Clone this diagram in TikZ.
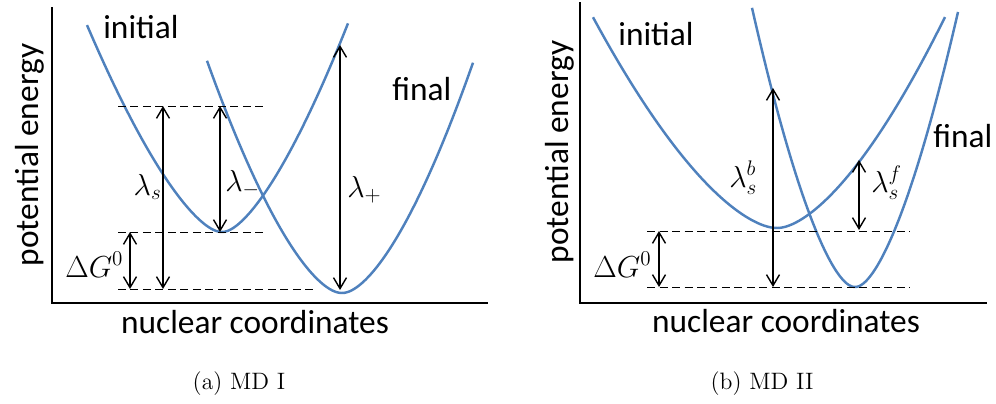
\documentclass[tikz,border=0pt]{standalone}
\usepackage{fontspec}
\setsansfont{Carlito}
\usepackage{tikz}
\usetikzlibrary{arrows.meta}
\definecolor{pesblue}{RGB}{79,129,189}

\tikzset{
  pes/.style={pesblue,line width=1.4pt,smooth},
  axisline/.style={line width=1.1pt},
  level/.style={dash pattern=on 1.6mm off 0.9mm,line width=0.5pt},
  gap/.style={{Straight Barb[length=2.2mm,width=2.6mm]}-{Straight Barb[length=2.2mm,width=2.6mm]},line width=0.8pt},
  lbl/.style={font=\sffamily\fontsize{19}{22}\selectfont,inner sep=0pt},
  sym/.style={font=\fontsize{17.28}{20}\selectfont,inner sep=0pt},
  capt/.style={font=\fontsize{13.5}{16}\selectfont,inner sep=0pt}
}

\begin{document}
\begin{tikzpicture}[x=0.02cm,y=-0.02cm,
  declare function={well(\u,\p)=pow(\u*\u+1,\p/2)-1;}]
  \useasboundingbox (0,0) rectangle (996,403);

  % ---------- (a) MD I ----------
  % axes
  \draw[axisline] (52,7) -- (52,303) -- (488,303);
  % initial and final surfaces
  \draw[pes] plot[domain=-13.5:12.6,samples=90]
    ({222+10*\x},{232-ifthenelse(\x<0,4.24,4.75)*well(\x,1.5)});
  \draw[pes] plot[domain=-13.5:13.1,samples=90]
    ({342+10*\x},{293-ifthenelse(\x<0,3.65,3.8)*well(\x,1.6)});
  % energy levels
  \coordinate (a-top-l) at (118,106);  \coordinate (a-top-r) at (263,106);
  \coordinate (a-mid-l) at (118,232);  \coordinate (a-mid-r) at (263,232);
  \coordinate (a-bot-l) at (118,289);  \coordinate (a-bot-r) at (313,289);
  \draw[level] (a-top-l) -- (a-top-r);
  \draw[level] (a-mid-l) -- (a-mid-r);
  \draw[level] (a-bot-l) -- (a-bot-r);
  % gaps
  \coordinate (a-ls-t) at (163,106);  \coordinate (a-ls-b) at (163,289);
  \coordinate (a-lm-t) at (220,106);  \coordinate (a-lm-b) at (220,232);
  \coordinate (a-dg-t) at (130,232);  \coordinate (a-dg-b) at (130,289);
  \coordinate (a-lp-t) at (340,45);   \coordinate (a-lp-b) at (340,290);
  \draw[gap] (a-ls-t) -- (a-ls-b);
  \draw[gap] (a-lm-t) -- (a-lm-b);
  \draw[gap] (a-dg-t) -- (a-dg-b);
  \draw[gap] (a-lp-t) -- (a-lp-b);
  % labels
  \node[lbl,anchor=base west] (a-init) at (103,38) {initial};
  \node[lbl,anchor=base west] (a-fin) at (392,100) {final};
  \node[lbl,anchor=base,rotate=90] (a-ylab) at (38,155) {potential energy};
  \node[lbl,anchor=base] (a-xlab) at (255,333) {nuclear coordinates};
  \node[sym,anchor=base east] (a-ls) at (162,195) {$\lambda_s$};
  \node[sym,anchor=base west] (a-lm) at (225,191) {$\lambda_-$};
  \node[sym,anchor=base west] (a-lp) at (347,197) {$\lambda_+$};
  \node[sym,anchor=base west] (a-dg) at (65,277) {$\Delta G^0$};
  \node[capt] (a-cap) at (239,384) {(a) MD I};

  % ---------- (b) MD II ----------
  % axes
  \draw[axisline] (580,2) -- (580,303) -- (987,303);
  % initial and final surfaces
  \draw[pes] plot[domain=-18.4:16.8,samples=100]
    ({777+10*\x},{228-ifthenelse(\x<0,2.01,2.33)*well(\x,1.6)});
  \draw[pes] plot[domain=-10.3:10.3,samples=90]
    ({855+10*\x},{287-ifthenelse(\x<0,6.8,6.7)*well(\x,1.6)});
  % energy levels
  \coordinate (b-mid-l) at (647,231);  \coordinate (b-mid-r) at (910,231);
  \coordinate (b-bot-l) at (647,287);  \coordinate (b-bot-r) at (910,287);
  \draw[level] (b-mid-l) -- (b-mid-r);
  \draw[level] (b-bot-l) -- (b-bot-r);
  % gaps
  \coordinate (b-dg-t) at (659,231);  \coordinate (b-dg-b) at (659,287);
  \coordinate (b-lb-t) at (773,88);   \coordinate (b-lb-b) at (773,287);
  \coordinate (b-lf-t) at (859,160);  \coordinate (b-lf-b) at (859,230);
  \draw[gap] (b-dg-t) -- (b-dg-b);
  \draw[gap] (b-lb-t) -- (b-lb-b);
  \draw[gap] (b-lf-t) -- (b-lf-b);
  % labels
  \node[lbl,anchor=base west] (b-init) at (618,45) {initial};
  \node[lbl,anchor=base west] (b-fin) at (933,147) {final};
  \node[lbl,anchor=base,rotate=90] (b-ylab) at (568,152) {potential energy};
  \node[lbl,anchor=base] (b-xlab) at (786,332) {nuclear coordinates};
  \node[sym,anchor=base west] (b-lb) at (729,187) {$\lambda_s^b$};
  \node[sym,anchor=base west] (b-lf) at (871,192) {$\lambda_s^f$};
  \node[sym,anchor=base west] (b-dg) at (593,277) {$\Delta G^0$};
  \node[capt] (b-cap) at (762,384) {(b) MD II};
\end{tikzpicture}
\end{document}
